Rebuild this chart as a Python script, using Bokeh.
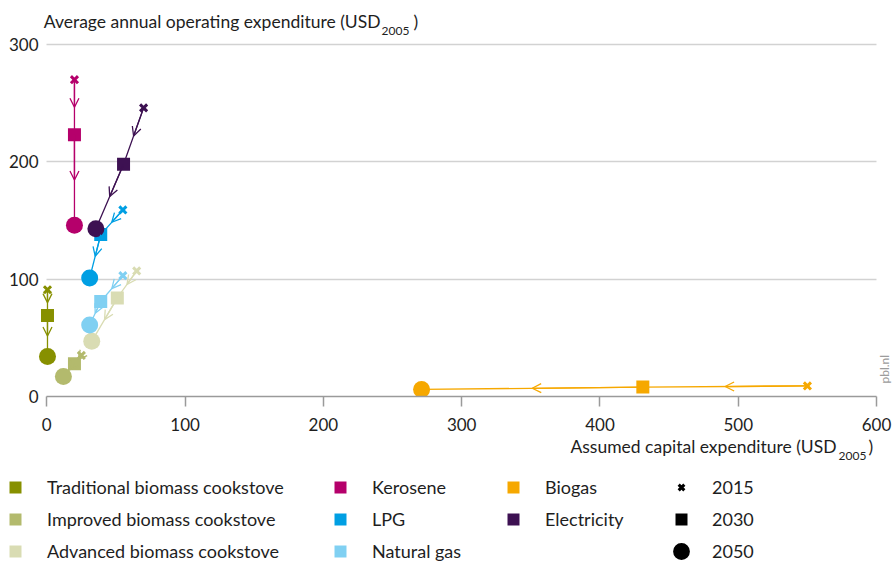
import math
from bokeh.plotting import figure
from bokeh.layouts import column
from bokeh.models import (Range1d, FixedTicker, ColumnDataSource, Arrow, OpenHead,
                          Label, Legend, LegendItem)
from bokeh.embed import file_html
from bokeh.resources import INLINE

# ---------------- data ----------------
techs = ["Traditional biomass cookstove", "Improved biomass cookstove",
         "Advanced biomass cookstove", "Kerosene", "LPG", "Natural gas",
         "Biogas", "Electricity"]
colors = ["#879000", "#b3ba6d", "#d9dcb3", "#b5006b", "#009fe3", "#80d0f2",
          "#f6a800", "#3d1152"]
years = ["2015", "2030", "2050"]
capex_2015 = [0.5, 25, 65, 20, 55, 55, 550, 70]
capex_2030 = [0.5, 20, 51, 20, 39, 39, 431, 55.5]
capex_2050 = [0.5, 12, 32.5, 20, 31, 31, 271, 35.5]
opex_2015 = [91, 35, 107, 270, 159, 103, 9, 246]
opex_2030 = [69, 28, 84, 223, 138, 81, 8, 198]
opex_2050 = [34, 17, 47, 146, 101, 61, 6, 143]
x_ticks = [0, 100, 200, 300, 400, 500, 600]
y_ticks = [0, 100, 200, 300]

FONT = "Lato"
TXT = "#1e1e1e"

# main chart: frame spans page x 38..895, y 0..396 (300 gridline at y=44)
p = figure(width=895, height=436, x_range=Range1d(-6.0, 613.7), y_range=Range1d(0, 337.5),
           output_backend="svg", toolbar_location=None, frame_align=False,
           min_border_left=38, min_border_right=0, min_border_top=0, min_border_bottom=40)
p.outline_line_color = None
p.xgrid.visible = False
p.ygrid.ticker = FixedTicker(ticks=y_ticks)
p.ygrid.grid_line_color = "#d2d2d2"
p.ygrid.grid_line_width = 1.5
p.ygrid.cross_bounds = (0, 600)

p.xaxis.ticker = FixedTicker(ticks=x_ticks)
p.xaxis.bounds = (0, 600)
p.xaxis.axis_line_color = "#9a9a9a"
p.xaxis.axis_line_width = 1.5
p.xaxis.major_tick_line_color = "#9a9a9a"
p.xaxis.major_tick_line_width = 1.5
p.xaxis.major_tick_out = 10
p.xaxis.major_tick_in = 0
p.xaxis.minor_tick_line_color = None
p.xaxis.major_label_standoff = 11
p.xaxis.major_label_text_font = FONT
p.xaxis.major_label_text_font_size = "17px"
p.xaxis.major_label_text_color = TXT

p.yaxis.ticker = FixedTicker(ticks=y_ticks)
p.yaxis.bounds = (0, 300)
p.yaxis.axis_line_color = None
p.yaxis.major_tick_line_color = None
p.yaxis.major_tick_out = 0
p.yaxis.major_tick_in = 0
p.yaxis.minor_tick_line_color = None
p.yaxis.major_label_standoff = 0
p.yaxis.major_label_text_font = FONT
p.yaxis.major_label_text_font_size = "17px"
p.yaxis.major_label_text_color = TXT

# ---------------- series ----------------
for i, name in enumerate(techs):
    c = colors[i]
    xs = [capex_2015[i], capex_2030[i], capex_2050[i]]
    ys = [opex_2015[i], opex_2030[i], opex_2050[i]]
    p.line(xs, ys, line_color=c, line_width=1.3)
    src = ColumnDataSource(dict(
        x_start=xs[:-1], y_start=ys[:-1],
        x_end=[(xs[k] + xs[k + 1]) / 2 for k in range(2)],
        y_end=[(ys[k] + ys[k + 1]) / 2 for k in range(2)]))
    p.add_layout(Arrow(end=OpenHead(size=9, line_color=c, line_width=1.3),
                       source=src, x_start="x_start", y_start="y_start",
                       x_end="x_end", y_end="y_end", line_color=c, line_width=1.3))
    p.scatter([xs[0]], [ys[0]], marker="x", size=10, line_width=3, line_color=c)
    p.scatter([xs[1]], [ys[1]], marker="square", size=13, fill_color=c, line_color=None)
    p.scatter([xs[2]], [ys[2]], marker="circle", size=17, fill_color=c, line_color=None)

def lab(fig, text, x, y, size, align="left", color=TXT, angle=0.0):
    fig.add_layout(Label(x=x, y=y, x_units="screen", y_units="screen", text=text,
                         text_font=FONT, text_font_size=size, text_align=align,
                         text_baseline="alphabetic", text_color=color, angle=angle))

# frame left = page 38, frame bottom = page 396
lab(p, "Average annual operating expenditure (USD", 342, 375, "17.5px", "right")
lab(p, "2005", 343, 366, "12px")
lab(p, ")", 375, 375, "17.5px")
lab(p, "pbl.nl", 846, 13, "12px", "left", "#9c9c9c", math.pi / 2)

# ---------------- lower panel: axis title + legends ----------------
q = figure(width=895, height=125, x_range=Range1d(0, 895), y_range=Range1d(0, 125),
           x_axis_type=None, y_axis_type=None, frame_align=False,
           output_backend="svg", toolbar_location=None,
           min_border_left=0, min_border_right=0, min_border_top=0, min_border_bottom=0)
q.grid.visible = False
q.outline_line_color = None

lab(q, "Assumed capital expenditure (USD", 836, 115, "17.5px", "right")
lab(q, "2005", 838, 106, "12px")
lab(q, ")", 868, 115, "17.5px")

def add_legend(items, x, y, gw, gh, standoff, lh, spacing=2):
    lg = Legend(items=items, location=(x, y), orientation="vertical",
                glyph_width=gw, glyph_height=gh, label_standoff=standoff,
                label_height=lh, spacing=spacing, padding=0, margin=0,
                border_line_color=None, background_fill_alpha=0,
                label_text_font=FONT, label_text_font_size="18px",
                label_text_color=TXT)
    q.add_layout(lg)

def key(marker, **kw):
    # hidden renderer: only its legend glyph is shown
    return q.scatter(x=[0], y=[0], marker=marker, visible=False, **kw)

cols = [[0, 1, 2], [3, 4, 5], [6, 7]]
col_x = [0, 325, 498]
col_y = [-5, -5, 27]
for ci, idx in enumerate(cols):
    items = [LegendItem(label=techs[k],
                        renderers=[key("square", fill_color=colors[k], line_color=None)])
             for k in idx]
    add_legend(items, col_x[ci], col_y[ci], 30, 30, 17, 30)

r15 = key("x", line_color="black", line_width=3)
r30 = key("square", fill_color="black", line_color=None)
r50 = key("circle", fill_color="black", line_color=None)
add_legend([LegendItem(label=years[0], renderers=[r15])], 671, 59, 20, 30, 21, 30)
add_legend([LegendItem(label=years[1], renderers=[r30])], 666, 27, 30, 30, 16, 30)
add_legend([LegendItem(label=years[2], renderers=[r50])], 660, -11, 42, 42, 10, 42)

layout = column(p, q, spacing=0)
open("out.html", "w").write(file_html(layout, INLINE))
